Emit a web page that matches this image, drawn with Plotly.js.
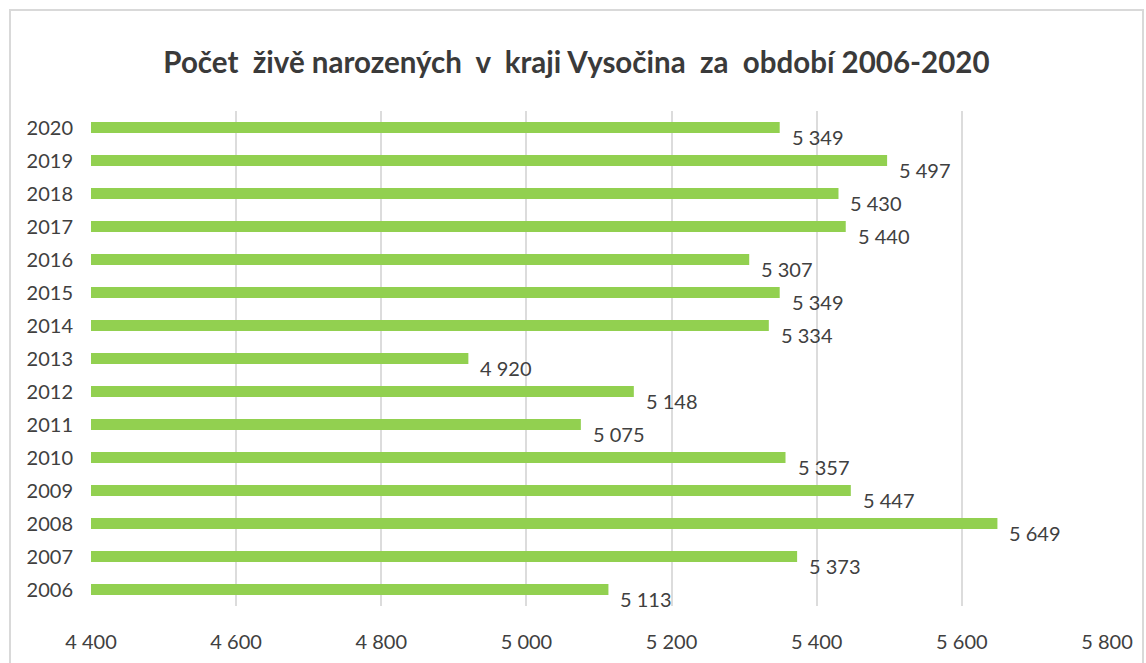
<!DOCTYPE html>
<html>
<head>
<meta charset="utf-8">
<script src="https://cdn.plot.ly/plotly-3.0.1.min.js"></script>
<style>html,body{margin:0;padding:0;background:#fff;}#chart{width:1146px;height:663px;}</style>
</head>
<body>
<div id="chart"></div>
<script>
const years = ['2006','2007','2008','2009','2010','2011','2012','2013','2014','2015','2016','2017','2018','2019','2020'];
const births = [5113, 5373, 5649, 5447, 5357, 5075, 5148, 4920, 5334, 5349, 5307, 5440, 5430, 5497, 5349];
const xTicks = [4400, 4600, 4800, 5000, 5200, 5400, 5600, 5800];
const titleText = 'Počet  živě narozených  v  kraji Vysočina  za  období 2006-2020';

const fmt = v => String(v).replace(/\B(?=(\d{3})+(?!\d))/g, ' ');

const W = 1146, H = 663, L = 91, R = 39, T = 111, B = 57;
const pw = W - L - R, ph = H - T - B;

const trace = {
  type: 'bar',
  orientation: 'h',
  x: births.map(v => v - 4400),
  base: 4400,
  y: years,
  width: 0.33,
  marker: {color: '#92D050'},
  hoverinfo: 'skip'
};

const annotations = years.map((y, i) => ({
  x: births[i], y: i, xref: 'x', yref: 'y',
  text: fmt(births[i]), showarrow: false,
  xanchor: 'left', yanchor: 'middle', xshift: 10, yshift: -9,
  font: {family: 'Lato, Calibri, sans-serif', size: 20, color: '#404040'}
}));

const layout = {
  width: W, height: H,
  margin: {l: L, r: R, t: T, b: B, pad: 0},
  paper_bgcolor: '#fff', plot_bgcolor: '#fff',
  separators: '. ',
  showlegend: false,
  title: {
    text: '<b>' + titleText + '</b>',
    x: 0.503, xanchor: 'center', y: 0.905, yanchor: 'middle',
    font: {family: 'Lato, Calibri, sans-serif', size: 29.5, color: '#3a3a3a'}
  },
  xaxis: {
    range: [4400, 5800], tickvals: xTicks, ticktext: xTicks.map(fmt),
    showgrid: true, gridcolor: '#dcdcdc', gridwidth: 2,
    zeroline: false, showline: false,
    ticks: 'outside', ticklen: 18, tickcolor: 'rgba(0,0,0,0)',
    tickfont: {family: 'Lato, Calibri, sans-serif', size: 20, color: '#404040'},
    fixedrange: true
  },
  yaxis: {
    type: 'category', categoryorder: 'array', categoryarray: years,
    range: [-0.5, 14.5],
    showgrid: false, zeroline: false,
    showline: false,
    ticks: 'outside', ticklen: 13, tickcolor: 'rgba(0,0,0,0)',
    tickfont: {family: 'Lato, Calibri, sans-serif', size: 20, color: '#404040'},
    fixedrange: true
  },
  annotations: annotations,
  shapes: [{
    type: 'rect', xref: 'paper', yref: 'paper',
    x0: (10 - L) / pw, x1: (1143 - L) / pw,
    y0: (H - B - 700) / ph, y1: (H - B - 10) / ph,
    line: {color: '#d9d9d9', width: 2}, fillcolor: 'rgba(0,0,0,0)', layer: 'below'
  }]
};

Plotly.newPlot('chart', [trace], layout, {displayModeBar: false, staticPlot: true});
</script>
</body>
</html>
